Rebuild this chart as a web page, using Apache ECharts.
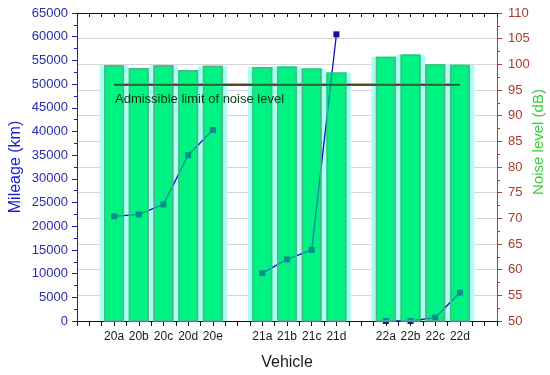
<!DOCTYPE html>
<html>
<head>
<meta charset="utf-8">
<script src="https://cdn.jsdelivr.net/npm/echarts@6/dist/echarts.min.js"></script>
<style>html,body{margin:0;padding:0;background:#fff;}#c{width:550px;height:375px;}</style>
</head>
<body>
<div id="c"></div>
<script>
// Categories (blank slots separate the vehicle groups)
var categories = [' ', '20a', '20b', '20c', '20d', '20e', '  ', '21a', '21b', '21c', '21d', '   ', '22a', '22b', '22c', '22d', '    '];
// Noise level (dB), right axis
var noiseLevel = ['-', 99.8, 99.3, 99.8, 98.9, 99.7, '-', 99.5, 99.6, 99.2, 98.4, '-', 101.5, 101.9, 100.0, 99.9, '-'];
// Mileage (km), left axis
var mileage = ['-', 22100, 22500, 24600, 35000, 40300, '-', 10100, 13000, 15000, 60500, '-', 0, 0, 700, 6000, '-'];
// Admissible limit of noise level (dB)
var limitData = ['-', 96, 96, 96, 96, 96, '-', 96, 96, 96, 96, '-', 96, 96, 96, 96, '-'];
var leftTicks = { min: 0, max: 65000, interval: 5000 };
var rightTicks = { min: 50, max: 110, interval: 5 };

var FONT = '"Liberation Sans", Arial, sans-serif';
var chart = echarts.init(document.getElementById('c'), null, { renderer: 'canvas' });

function xAx(extra) {
  var base = {
    type: 'category', data: categories, gridIndex: 0,
    axisLine: { show: false, onZero: false, lineStyle: { color: '#111', width: 1 } },
    axisTick: { show: true, interval: 0, length: 5, lineStyle: { color: '#111', width: 1 } },
    axisLabel: { show: false },
    splitLine: { show: false }
  };
  for (var k in extra) {
    if (typeof extra[k] === 'object' && base[k] && !Array.isArray(extra[k])) {
      for (var j in extra[k]) base[k][j] = extra[k][j];
    } else base[k] = extra[k];
  }
  return base;
}

var option = {
  animation: false,
  textStyle: { fontFamily: FONT },
  grid: { left: 77, right: 53, top: 13, bottom: 54, containLabel: false, outerBoundsMode: 'none' },
  xAxis: [
    xAx({ position: 'bottom',
      axisLine: { show: true },
      axisTick: { alignWithLabel: true },
      axisLabel: { show: true, interval: 0, fontSize: 12, color: '#1a1a1a', margin: 10, fontFamily: FONT },
      name: 'Vehicle', nameLocation: 'middle', nameGap: 34, nameMoveOverlap: false,
      nameTextStyle: { fontSize: 16, color: '#1a1a1a', fontFamily: FONT } }),
    xAx({ position: 'bottom' }),
    xAx({ position: 'top', axisLine: { show: true }, axisTick: { alignWithLabel: true, inside: true, length: 4 } }),
    xAx({ position: 'top', axisTick: { inside: true, length: 4 } })
  ],
  yAxis: [
    {
      type: 'value', position: 'left', min: leftTicks.min, max: leftTicks.max, interval: leftTicks.interval,
      axisLine: { show: true, lineStyle: { color: '#1a1ac8', width: 1 } },
      axisTick: { show: true, length: 5, lineStyle: { color: '#1a1ac8' } },
      minorTick: { show: true, splitNumber: 2, length: 3, lineStyle: { color: '#1a1ac8' } },
      axisLabel: { fontSize: 13, color: '#2a2ab4', margin: 9, fontFamily: FONT, formatter: function (v) { return String(v); } },
      splitLine: { show: false },
      name: 'Mileage (km)', nameLocation: 'middle', nameGap: 53, nameRotate: 90, nameMoveOverlap: false,
      nameTextStyle: { fontSize: 16, color: '#1c1cd0', fontFamily: FONT }
    },
    {
      type: 'value', position: 'right', min: rightTicks.min, max: rightTicks.max, interval: rightTicks.interval,
      axisLine: { show: true, lineStyle: { color: '#a8402f', width: 1 } },
      axisTick: { show: true, length: 5, lineStyle: { color: '#a8402f' } },
      minorTick: { show: true, splitNumber: 2, length: 3, lineStyle: { color: '#a8402f' } },
      axisLabel: { fontSize: 13, color: '#a8392c', margin: 11, fontFamily: FONT },
      splitLine: { show: true, lineStyle: { color: '#d6d6d6', width: 1 } },
      name: 'Noise level (dB)', nameLocation: 'middle', nameGap: 34, nameRotate: 90, nameMoveOverlap: false,
      nameTextStyle: { fontSize: 15, color: '#3ccc3c', fontFamily: FONT, padding: [0, 0, 0, 50] }
    }
  ],
  series: [
    { type: 'bar', name: 'halo', xAxisIndex: 1, yAxisIndex: 1, data: noiseLevel, barWidth: 29, z: 1, silent: true,
      itemStyle: { color: '#aefff3' } },
    { type: 'bar', name: 'noise', xAxisIndex: 0, yAxisIndex: 1, data: noiseLevel, barWidth: 20, barGap: '-100%', z: 2, silent: true,
      itemStyle: { color: '#00f283' } },
    { type: 'line', name: 'limitRed', xAxisIndex: 0, yAxisIndex: 1, data: limitData, symbol: 'none', connectNulls: true, z: 3,
      lineStyle: { color: '#c0402a', width: 2.5 } },
    { type: 'line', name: 'mileage', xAxisIndex: 0, yAxisIndex: 0, data: mileage, symbol: 'rect', symbolSize: 6, clip: false, z: 4,
      connectNulls: false,
      lineStyle: { color: '#1212c0', width: 1.3 }, itemStyle: { color: '#141498' } },
    { type: 'bar', name: 'noiseTop', xAxisIndex: 0, yAxisIndex: 1, data: noiseLevel, barWidth: 20, barGap: '-100%', z: 5, silent: true,
      itemStyle: { color: 'rgba(0,242,131,0.55)', borderColor: '#4fb487', borderWidth: 1.5 } },
    { type: 'line', name: 'limit', xAxisIndex: 0, yAxisIndex: 1, data: limitData, symbol: 'none', connectNulls: true, z: 6,
      lineStyle: { color: '#1f4a18', width: 1.3 } }
  ],
  graphic: [
    { type: 'text', left: 115, top: 93, z: 100,
      style: { text: 'Admissible limit of noise level', fontSize: 13, fill: '#0d3512', fontFamily: FONT } }
  ]
};
chart.setOption(option);
</script>
</body>
</html>
